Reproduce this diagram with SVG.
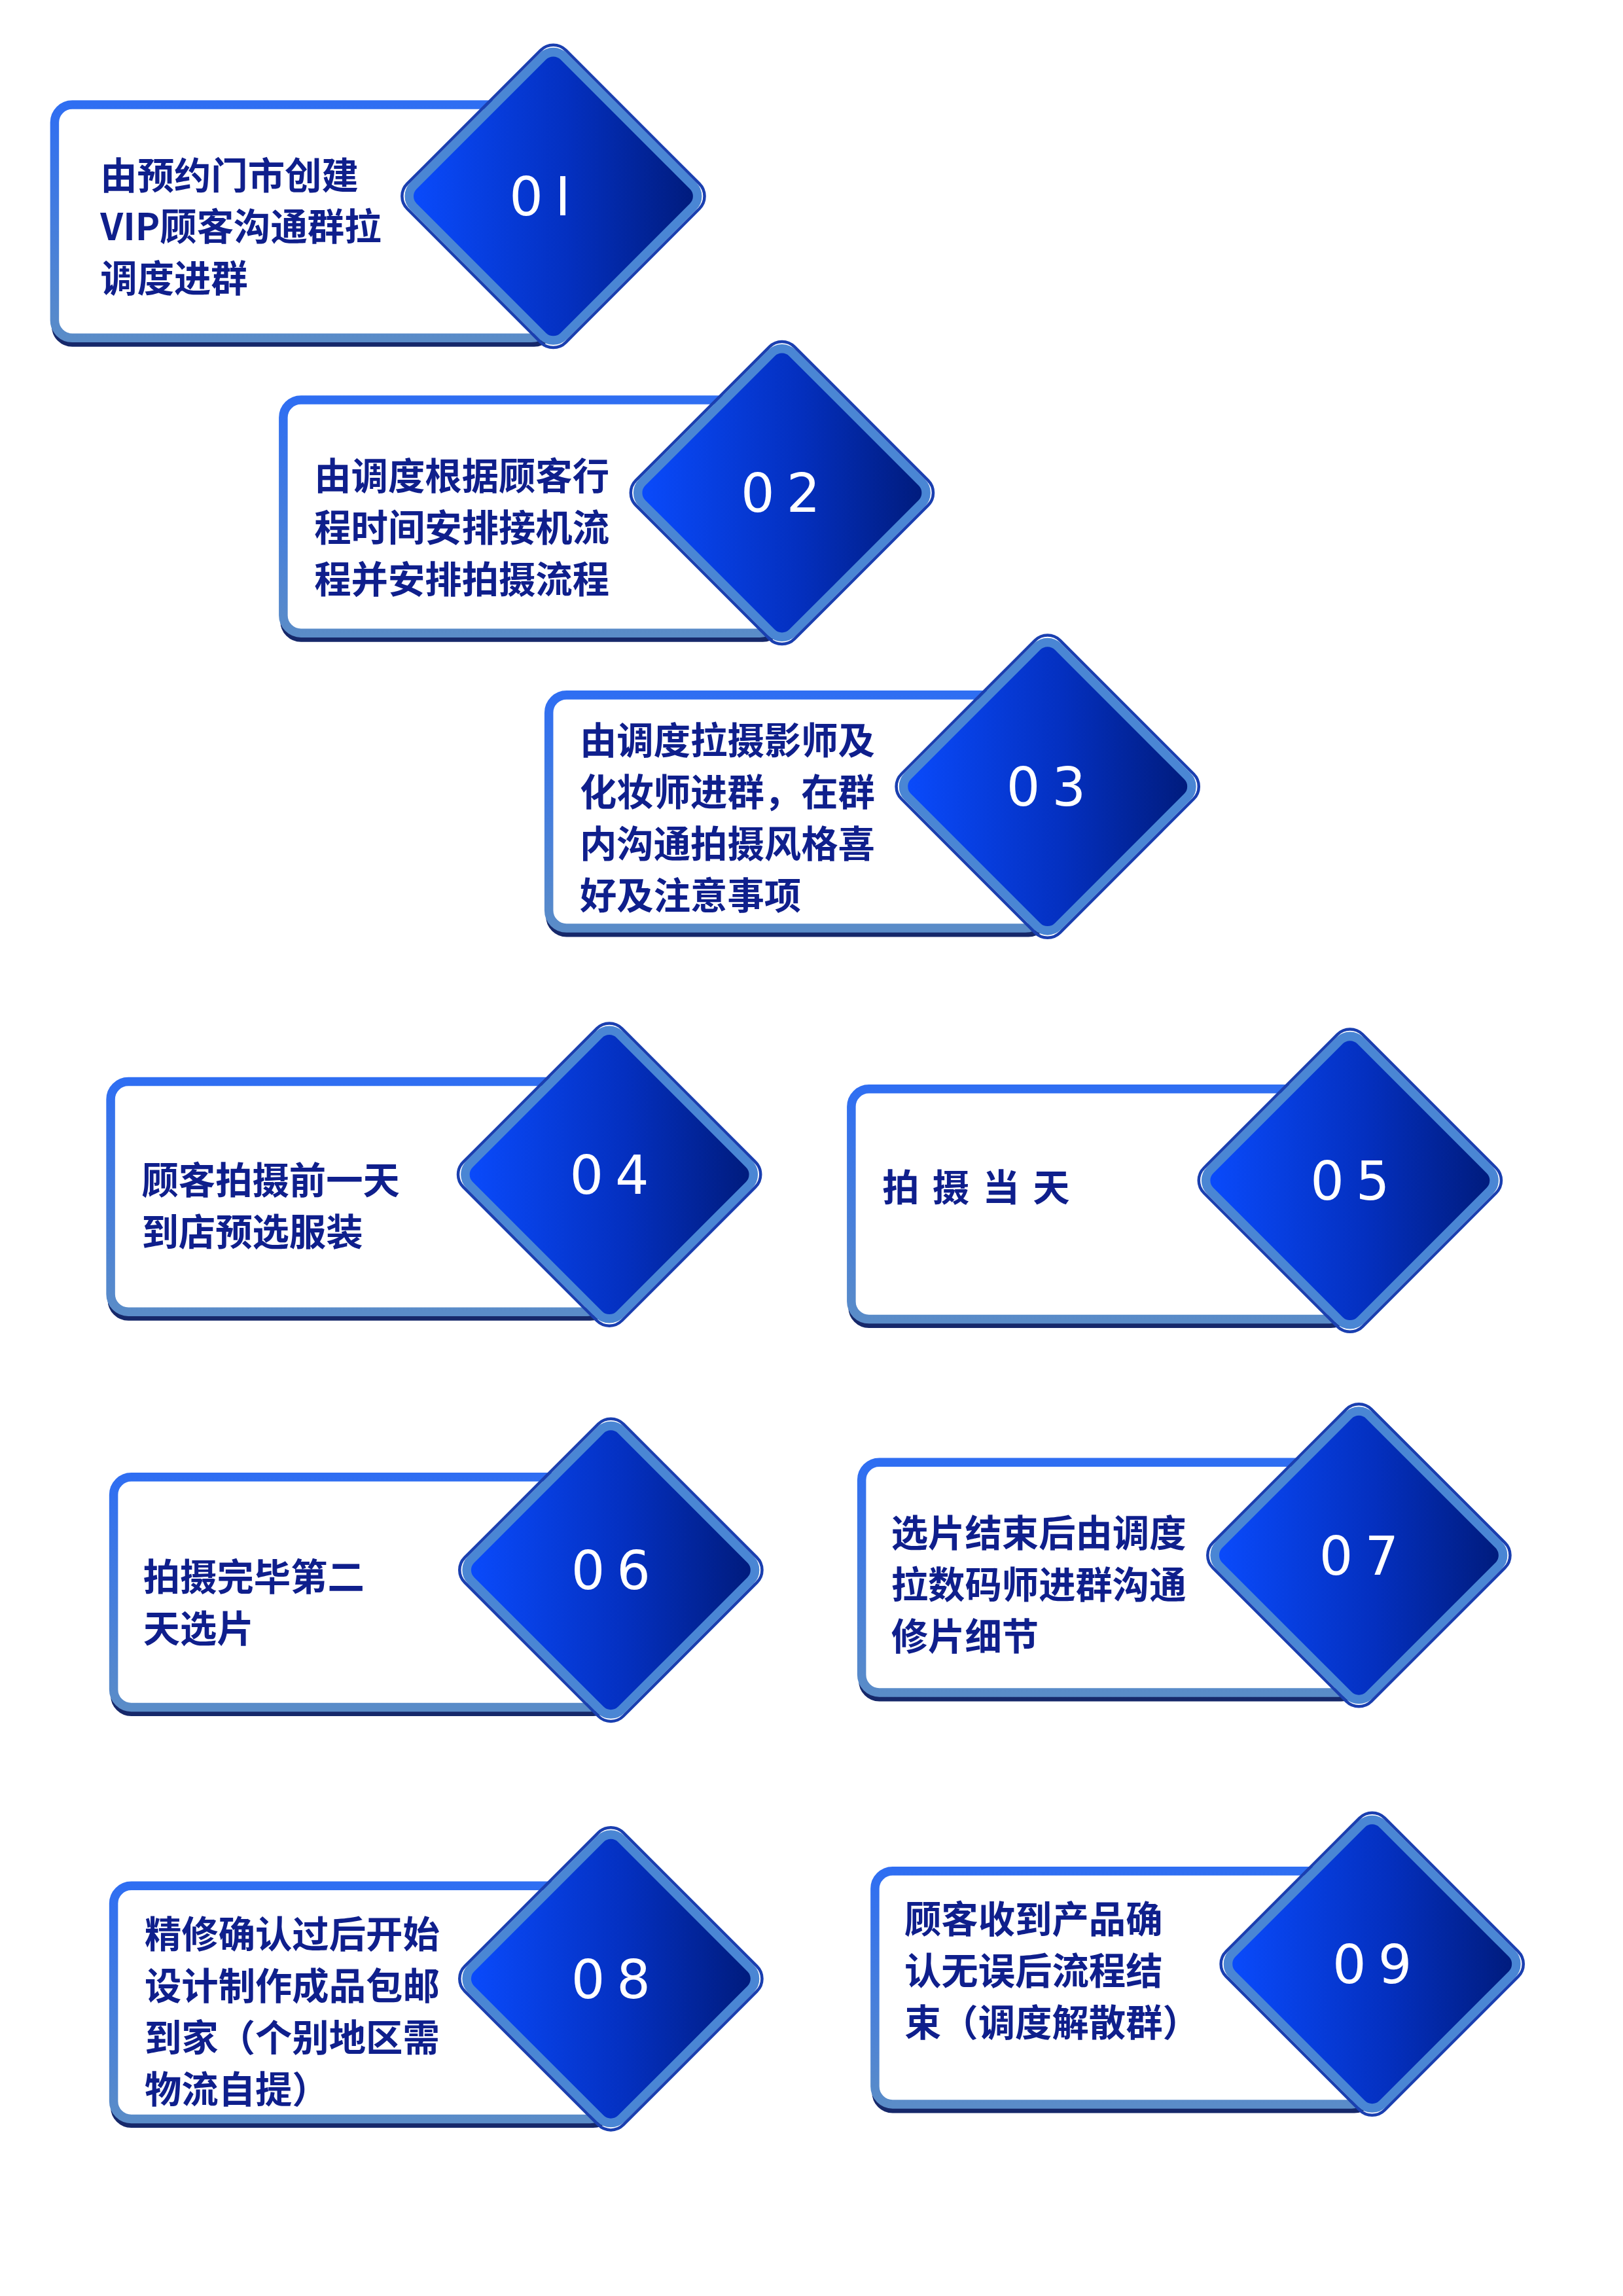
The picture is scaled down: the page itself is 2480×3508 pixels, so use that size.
<svg xmlns="http://www.w3.org/2000/svg" width="2480" height="3508" viewBox="0 0 2480 3508">
<defs>
<linearGradient id="dg" x1="0" y1="1" x2="1" y2="0"><stop offset="0" stop-color="#0a4cff"/><stop offset="0.55" stop-color="#0430c0"/><stop offset="1" stop-color="#001a78"/></linearGradient>
<linearGradient id="bg" x1="0" y1="0" x2="0" y2="1"><stop offset="0" stop-color="#2f6ef2"/><stop offset="1" stop-color="#5a8cc8"/></linearGradient>
<style>
.box{fill:#fff;stroke:url(#bg);stroke-width:6}
.sh{fill:none;stroke:#16286a;stroke-width:4}
.dia{fill:url(#dg);stroke:#4a86d4;stroke-width:6}
.dia2{fill:none;stroke:#1a3fb0;stroke-width:2}
.t{font-family:"Noto Sans CJK SC","Liberation Sans",sans-serif;font-weight:bold;font-size:25px;fill:#0f1f8c}
.n{font-family:"DejaVu Sans","Liberation Sans",sans-serif;font-size:36px;fill:#fff;letter-spacing:8px;text-anchor:middle}
</style>
<g id="d"><rect x="-72" y="-72" width="144" height="144" rx="10" transform="rotate(45)" class="dia"/><rect x="-76" y="-76" width="152" height="152" rx="12" transform="rotate(45)" class="dia2"/></g>
</defs>
<rect width="2480" height="3508" fill="#fff"/>
<g transform="scale(2.2545)">
<g id="node01"><rect x="37" y="73" width="337" height="160" rx="12" class="sh"/><rect x="37" y="71" width="335" height="158" rx="12" class="box"/><use href="#d" x="375" y="133"/><text class="t" x="68" y="128">由预约门市创建</text><text class="t" x="68" y="163">VIP顾客沟通群拉</text><text class="t" x="68" y="198">调度进群</text><text class="n" x="370" y="146">0I</text></g>
<g id="node02"><rect x="192" y="273" width="337" height="160" rx="12" class="sh"/><rect x="192" y="271" width="335" height="158" rx="12" class="box"/><use href="#d" x="530" y="334"/><text class="t" x="213" y="332">由调度根据顾客行</text><text class="t" x="213" y="367">程时间安排接机流</text><text class="t" x="213" y="402">程并安排拍摄流程</text><text class="n" x="533" y="347">02</text></g>
<g id="node03"><rect x="372" y="473" width="337" height="160" rx="12" class="sh"/><rect x="372" y="471" width="335" height="158" rx="12" class="box"/><use href="#d" x="710" y="533"/><text class="t" x="393" y="511">由调度拉摄影师及</text><text class="t" x="393" y="546">化妆师进群，在群</text><text class="t" x="393" y="581">内沟通拍摄风格喜</text><text class="t" x="393" y="616">好及注意事项</text><text class="n" x="713" y="546">03</text></g>
<g id="node04"><rect x="75" y="735" width="337" height="158" rx="12" class="sh"/><rect x="75" y="733" width="335" height="156" rx="12" class="box"/><use href="#d" x="413" y="796"/><text class="t" x="96" y="809">顾客拍摄前一天</text><text class="t" x="96" y="844">到店预选服装</text><text class="n" x="417" y="809">04</text></g>
<g id="node05"><rect x="577" y="740" width="337" height="158" rx="12" class="sh"/><rect x="577" y="738" width="335" height="156" rx="12" class="box"/><use href="#d" x="915" y="800"/><text class="t" x="598" y="814" letter-spacing="9">拍摄当天</text><text class="n" x="919" y="813">05</text></g>
<g id="node06"><rect x="77" y="1003" width="337" height="158" rx="12" class="sh"/><rect x="77" y="1001" width="335" height="156" rx="12" class="box"/><use href="#d" x="414" y="1064"/><text class="t" x="97" y="1078">拍摄完毕第二</text><text class="t" x="97" y="1113">天选片</text><text class="n" x="418" y="1077">06</text></g>
<g id="node07"><rect x="584" y="993" width="337" height="158" rx="12" class="sh"/><rect x="584" y="991" width="335" height="156" rx="12" class="box"/><use href="#d" x="921" y="1054"/><text class="t" x="604" y="1048">选片结束后由调度</text><text class="t" x="604" y="1083">拉数码师进群沟通</text><text class="t" x="604" y="1118">修片细节</text><text class="n" x="925" y="1067">07</text></g>
<g id="node08"><rect x="77" y="1280" width="337" height="160" rx="12" class="sh"/><rect x="77" y="1278" width="335" height="158" rx="12" class="box"/><use href="#d" x="414" y="1341"/><text class="t" x="98" y="1320">精修确认过后开始</text><text class="t" x="98" y="1355">设计制作成品包邮</text><text class="t" x="98" y="1390">到家（个别地区需</text><text class="t" x="98" y="1425">物流自提）</text><text class="n" x="418" y="1354">08</text></g>
<g id="node09"><rect x="593" y="1270" width="337" height="160" rx="12" class="sh"/><rect x="593" y="1268" width="335" height="158" rx="12" class="box"/><use href="#d" x="930" y="1331"/><text class="t" x="613" y="1310">顾客收到产品确</text><text class="t" x="613" y="1345">认无误后流程结</text><text class="t" x="613" y="1380">束（调度解散群）</text><text class="n" x="934" y="1344">09</text></g>
<g id="connectors"/>
</g>
</svg>
